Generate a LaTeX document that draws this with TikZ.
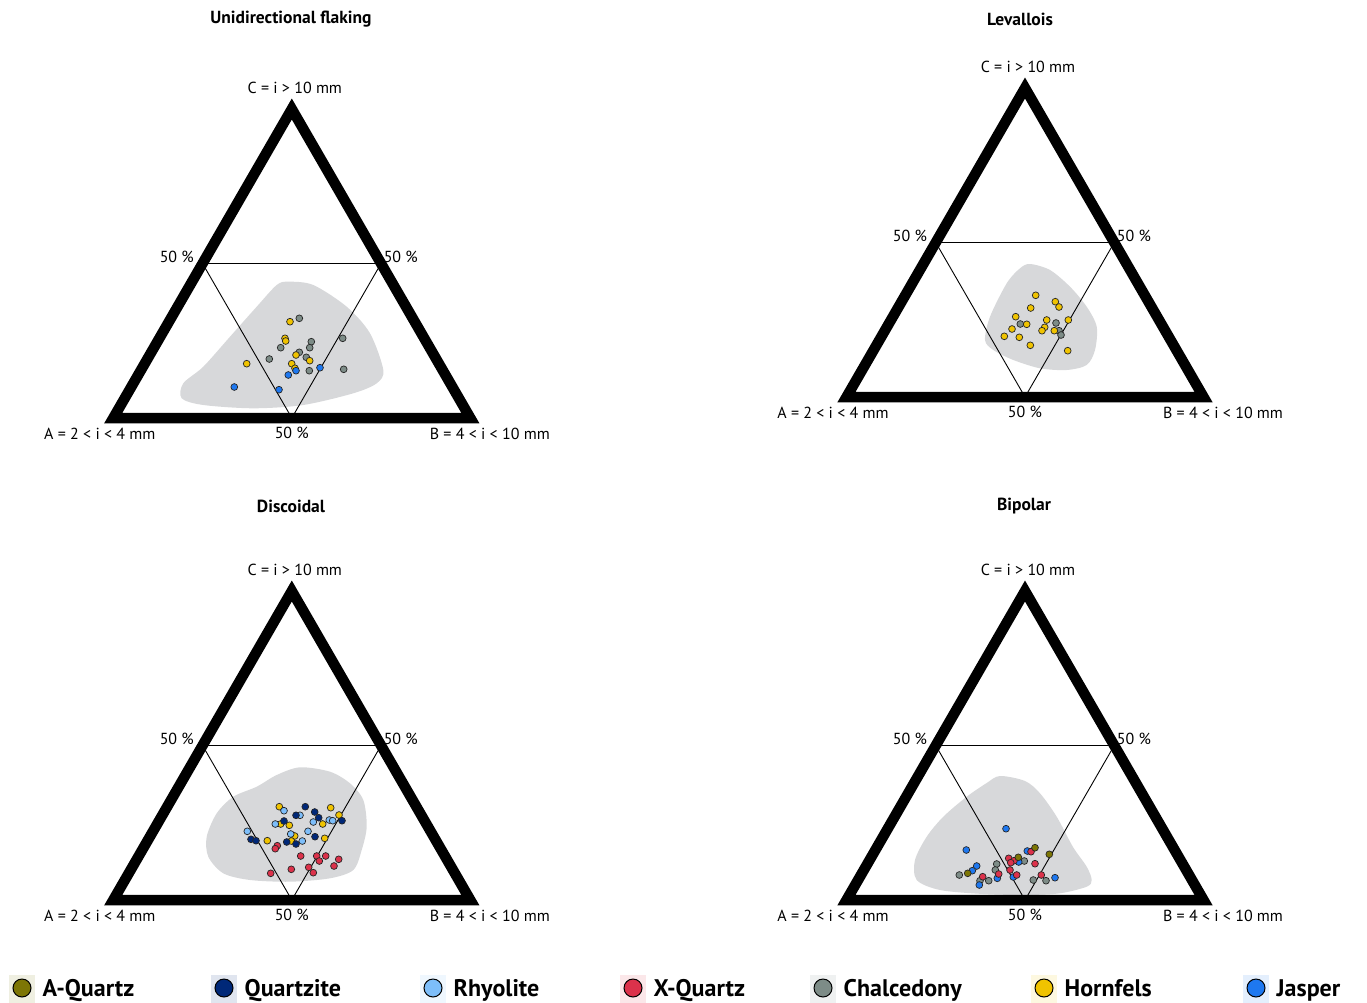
\documentclass[tikz,border=0pt]{standalone}
\usepackage{fontspec}
\setmainfont{PT Sans}
\usepackage{tikz}
\usetikzlibrary{positioning}
\definecolor{aquartz}{RGB}{125,118,5}
\definecolor{quartzite}{RGB}{0,40,120}
\definecolor{rhyolite}{RGB}{125,190,250}
\definecolor{xquartz}{RGB}{220,50,75}
\definecolor{chalcedony}{RGB}{125,140,135}
\definecolor{hornfels}{RGB}{240,195,0}
\definecolor{jasper}{RGB}{30,120,240}
\definecolor{blobgray}{RGB}{215,216,218}
% one ternary frame: name, x and y of the middle of the base
\newcommand{\ternary}[3]{%
\begin{scope}[shift={(#2,#3)}]
\coordinate (#1A) at (-178.5,0);
\coordinate (#1B) at (178.5,0);
\coordinate (#1C) at (0,-309);
\coordinate (#1AB) at (0,0);
\coordinate (#1AC) at (-89.25,-154.5);
\coordinate (#1BC) at (89.25,-154.5);
\draw[halfline] (#1AC) -- (#1BC) -- (#1AB) -- cycle;
\draw[rim] (#1A) -- (#1B) -- (#1C) -- cycle;
\node[lab] (#1c) at (3,-330) {C = i > 10 mm};
\node[lab] (#1l) at (-115,-161) {50 \%};
\node[lab] (#1r) at (109,-161) {50 \%};
\node[lab] (#1a) at (-192,16) {A = 2 < i < 4 mm};
\node[lab] (#1m) at (0,15) {50 \%};
\node[lab] (#1b) at (198,16) {B = 4 < i < 10 mm};
\end{scope}}

\begin{document}
\begin{tikzpicture} [x=1pt, y=-1pt, rim/.style ={line width=10.5pt, line join=miter},
 halfline/.style ={line width=0.9pt}, blob/.style ={fill=blobgray},
 lab/.style ={font=\fontsize{16}{18}\selectfont, inner sep=0pt},
 title/.style ={font=\fontsize{17.5}{20}\selectfont\bfseries, inner sep=0pt},
 datadot/.style ={draw=black!85, line width=0.7pt},
 legdot/.style ={circle, draw=black, line width=1pt, minimum size=18pt, inner sep=0pt},
 legtext/.style ={font=\fontsize{24}{27}\selectfont\bfseries, inner sep=0pt, text height=17pt, text depth=0pt}]
\useasboundingbox (0,0) rectangle (1367,1003);
% grey areas
\fill[blob] plot[smooth cycle] coordinates {(288.3,281.7) (313.3,285) (346.7,306.7) (370,333.3) (383.3,370) (376.7,383.3) (353.3,393.3) (303.3,405) (253.3,408.3) (203.3,405) (181.7,398.3) (183.3,383.3) (203.3,366.7) (230,336.7) (256.7,306.7) (276.7,285)};
\fill[blob] plot[smooth cycle] coordinates {(1030,264) (1050,270) (1070,286.7) (1086.7,306.7) (1096.7,326.7) (1095,350) (1086.7,365) (1066.7,370) (1040,368.3) (1013.3,360) (993.3,350) (985,340) (990,316.7) (1006.7,283.3) (1020,268.3)};
\fill[blob] plot[smooth cycle] coordinates {(300,767.3) (330,771.7) (350,783.3) (363.3,800) (366.7,826.7) (361.7,850) (353.3,870) (330,878.3) (290,881.7) (250,880) (223.3,873.3) (208.3,856.7) (206.7,836.7) (216.7,813.3) (233.3,796.7) (256.7,786.7) (276.7,775)};
\fill[blob] plot[smooth cycle] coordinates {(1000,776) (1025,781) (1040,793.3) (1056.7,816.7) (1073,847) (1086.7,866.7) (1091.7,880) (1086.7,886.7) (1060,893.3) (1026.7,895) (983.3,894) (940,890) (916.7,880) (915,860) (926.7,836.7) (943.3,816.7) (966.7,796.7) (986.7,783)};
% frames
\ternary{U}{291.8}{418}
\ternary{L}{1025}{397}
\ternary{D}{291.8}{900}
\ternary{P}{1025}{900}
\node[title] (tU) at (291,19) {Unidirectional flaking};
\node[title] (tL) at (1020,19) {Levallois};
\node[title] (tD) at (291,506) {Discoidal};
\node[title] (tP) at (1024,506) {Bipolar};
% Unidirectional flaking
\foreach \px/\py in {299.3/318.3, 311.3/341.7, 280.7/347.7, 309.7/347.7, 342.7/338.3, 299.3/352.3, 269.3/359, 306.3/357.3, 309.3/370.7, 343.7/369.3}
 \filldraw[datadot, fill=chalcedony] (\px,\py) circle (3.4);
\foreach \px/\py in {290/321.7, 285/338.3, 285.7/341, 296/355, 309.7/360.7, 246.7/363.7, 291.7/363.7, 295/368.3}
 \filldraw[datadot, fill=hornfels] (\px,\py) circle (3.4);
\foreach \px/\py in {296/370.7, 288.3/375, 320/367.7, 234.3/387, 279/389.7}
 \filldraw[datadot, fill=jasper] (\px,\py) circle (3.4);
% Levallois
\foreach \px/\py in {1020.3/324, 1056/323, 1059/330.7, 1061/335}
 \filldraw[datadot, fill=chalcedony] (\px,\py) circle (3.4);
\foreach \px/\py in {1035.7/295.3, 1055.3/301.7, 1059/307, 1030.7/308, 1015.7/316.7, 1026.7/324.3, 1046.7/320, 1068.3/320, 1012/329, 1044.7/327.3, 1042/330.7, 1054.3/330.7, 1004.3/336.3, 1019.3/337.3, 1030.3/345.3, 1067.7/350.7}
 \filldraw[datadot, fill=hornfels] (\px,\py) circle (3.4);
% Discoidal
\foreach \px/\py in {279.3/806.7, 330.7/807.7, 339/815, 280.7/824, 289.3/825.3, 322.7/824, 294.7/836, 267.3/840.7, 291.3/841, 324.7/838.3}
 \filldraw[datadot, fill=hornfels] (\px,\py) circle (3.4);
\foreach \px/\py in {284/810.7, 300/815.3, 329.3/820, 332.7/820.7, 275.3/824, 313.3/822, 247.3/831.3, 290.7/834, 308/831.3, 302.3/841}
 \filldraw[datadot, fill=rhyolite] (\px,\py) circle (3.4);
\foreach \px/\py in {305.3/806.7, 314.7/812, 296/815.3, 318.7/817.7, 342/820.7, 284/821, 251/839.3, 256/840.7, 286.7/842, 296/844, 315/836.7}
 \filldraw[datadot, fill=quartzite] (\px,\py) circle (3.4);
\foreach \px/\py in {277.3/845.7, 275.3/848.7, 300.7/856, 316.7/856, 325.7/856, 319.3/861, 338.7/859.3, 334/866, 291.3/869.3, 308.7/867.3, 313.3/872.7, 270.7/873.3}
 \filldraw[datadot, fill=xquartz] (\px,\py) circle (3.4);
% Bipolar
\foreach \px/\py in {1024.3/861, 996.7/864, 959.3/875, 995.3/870, 988.7/880.7, 980/880.7, 1033.3/880, 1046/880.7}
 \filldraw[datadot, fill=chalcedony] (\px,\py) circle (3.4);
\foreach \px/\py in {1006/828.7, 966.3/850, 1027.3/851, 1018.7/862, 976.7/866, 972.3/870.7, 997.3/878.3, 1013.3/877, 979.3/885, 1055/877.7}
 \filldraw[datadot, fill=jasper] (\px,\py) circle (3.4);
\foreach \px/\py in {1031/851.7, 1008.7/858.3, 1014/860.7, 1010.7/862.7, 1035/863.7, 1010/870, 998.7/874, 982.7/876.7, 1016.7/875, 1041.3/875}
 \filldraw[datadot, fill=xquartz] (\px,\py) circle (3.4);
\foreach \px/\py in {1035/847.7, 1049.3/854.3, 1018.3/857.3, 967.7/873.3}
 \filldraw[datadot, fill=aquartz] (\px,\py) circle (3.4);
% legend
\foreach \x/\c/\t in {22/aquartz/A-Quartz, 224/quartzite/Quartzite, 433/rhyolite/Rhyolite, 633/xquartz/X-Quartz, 823/chalcedony/Chalcedony, 1044/hornfels/Hornfels, 1256/jasper/Jasper} {
 \fill[\c!12] (\x-13,975) rectangle (\x+13,1003);
 \node[legdot, fill=\c] (leg\c) at (\x,988) {};
 \node[legtext, right=11pt of leg\c] (txt\c) {\t};
}
\end{tikzpicture}
\end{document}
